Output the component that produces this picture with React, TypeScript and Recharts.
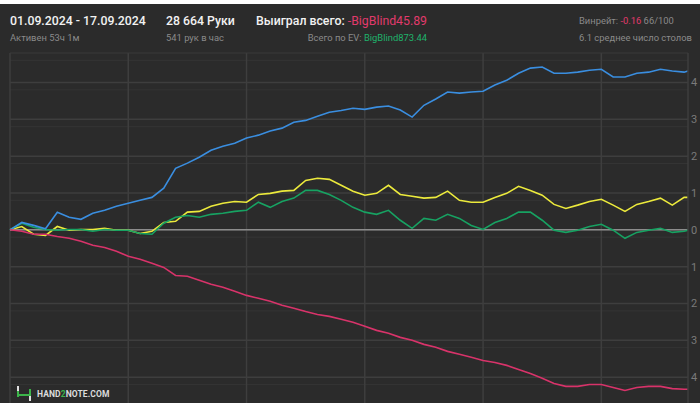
import { CartesianGrid, Line, LineChart, ReferenceLine, XAxis, YAxis } from "recharts";

// раздачи (ось X) и выигрыш в BB по линиям
const HANDS = [
  0, 500, 1000, 1500, 2000, 2500, 3000, 3500, 4000, 4500,
  5000, 5500, 6000, 6500, 7000, 7500, 8000, 8500, 9000, 9500,
  10000, 10500, 11000, 11500, 12000, 12500, 13000, 13500, 14000, 14500,
  15000, 15500, 16000, 16500, 17000, 17500, 18000, 18500, 19000, 19500,
  20000, 20500, 21000, 21500, 22000, 22500, 23000, 23500, 24000, 24500,
  25000, 25500, 26000, 26500, 27000, 27500, 28000, 28500, 28664,
];

// синяя — выигрыш на шоудауне
const SHOWDOWN = [
  0, 200, 120, 30, 475, 340, 285, 450, 530, 640,
  720, 800, 880, 1130, 1670, 1810, 1970, 2160, 2270, 2350,
  2490, 2570, 2680, 2760, 2920, 2970, 3080, 3190, 3240, 3300,
  3270, 3330, 3360, 3250, 3060, 3380, 3550, 3740, 3710, 3740,
  3760, 3930, 4060, 4250, 4390, 4420, 4250, 4250, 4280, 4330,
  4360, 4150, 4150, 4250, 4280, 4360, 4310, 4280, 4310,
];

// жёлтая — выигрыш по EV
const EV = [
  0, 90, -120, -150, 90, -10, 10, 10, 40, -10,
  -10, -100, -40, 200, 230, 480, 500, 640, 720, 770,
  750, 960, 990, 1050, 1070, 1340, 1400, 1370, 1210, 1050,
  940, 990, 1210, 960, 910, 860, 880, 1050, 800, 750,
  750, 880, 990, 1180, 1070, 940, 690, 580, 670, 770,
  830, 670, 500, 690, 770, 860, 670, 880, 880,
];

// зелёная — выиграл всего
const NET = [
  0, 180, 70, 10, -10, 10, 10, -40, 10, -10,
  -10, -100, -120, 180, 340, 390, 340, 420, 450, 500,
  530, 750, 610, 770, 860, 1070, 1070, 960, 800, 610,
  480, 420, 530, 260, 40, 310, 260, 420, 310, 120,
  10, 200, 310, 480, 480, 260, -10, -70, -10, 90,
  150, -10, -230, -70, -10, 40, -70, -40, -10,
];

// красная — без шоудауна
const NON_SHOWDOWN = [
  0, -40, -120, -120, -180, -230, -310, -420, -480, -580,
  -720, -800, -910, -1020, -1240, -1260, -1370, -1480, -1560, -1670,
  -1780, -1860, -1940, -2050, -2130, -2220, -2300, -2350, -2430, -2510,
  -2620, -2730, -2810, -2920, -3000, -3110, -3190, -3300, -3380, -3460,
  -3550, -3600, -3680, -3790, -3900, -4030, -4170, -4250, -4250, -4200,
  -4200, -4280, -4360, -4280, -4250, -4250, -4310, -4330, -4330,
];

const Y_TICKS = [-4000, -3000, -2000, -1000, 0, 1000, 2000, 3000, 4000];
const MINOR_TICKS = [
  -4800, -4600, -4400, -4200, -3800, -3600, -3400, -3200, -2800, -2600, -2400, -2200,
  -1800, -1600, -1400, -1200, -800, -600, -400, -200, 200, 400, 600, 800,
  1200, 1400, 1600, 1800, 2200, 2400, 2600, 2800, 3200, 3400, 3600, 3800, 4200, 4400, 4600,
];
const X_GRID = [0, 5000, 10000, 15000, 20000, 25000];

const rows = HANDS.map((h, i) => ({
  hands: h,
  showdown: SHOWDOWN[i],
  ev: EV[i],
  net: NET[i],
  nonShowdown: NON_SHOWDOWN[i],
}));

const BG = "#2b2b2b";
const DIM = "#8a8a8a";
const PINK = "#e23a6c";
const GREEN = "#1fb36b";
const BIG = 12.3;
const SMALL = 9.4;

const fmt = (v: number) =>
  Math.abs(v)
    .toString()
    .replace(/\B(?=(\d{3})+(?!\d))/g, " ");

export default function App() {
  return (
    <div
      style={{
        position: "fixed",
        left: 0,
        top: 0,
        width: 700,
        height: 403,
        overflow: "hidden",
        background: "#ffffff",
        fontFamily: "Roboto, 'Noto Sans', sans-serif",
      }}
    >
      <div style={{ position: "absolute", left: 0, top: 4, width: 700, height: 399, background: BG }} />

      <div style={{ position: "absolute", left: 0, top: 0 }}>
        <LineChart
          width={740}
          height={420}
          data={rows}
          margin={{ top: 53, right: 0, bottom: 6, left: 10 }}
        >
          <CartesianGrid
            horizontalValues={MINOR_TICKS}
            vertical={false}
            stroke="#343434"
            strokeWidth={1}
          />
          <CartesianGrid
            horizontalValues={Y_TICKS}
            verticalValues={X_GRID}
            stroke="#3e3e3e"
            strokeWidth={1.5}
          />
          <ReferenceLine y={4800} stroke="#3a3a3a" strokeWidth={1} />
          <XAxis dataKey="hands" type="number" domain={[0, 28664]} hide />
          <YAxis
            orientation="right"
            width={52}
            domain={[-5000, 4800]}
            ticks={Y_TICKS}
            allowDataOverflow
            tickFormatter={fmt}
            tickLine={false}
            tickSize={0}
            tickMargin={3}
            axisLine={{ stroke: "#3e3e3e", strokeWidth: 1.5 }}
            tick={{ fill: "#7a7a7a", fontSize: 11, textAnchor: "start" }}
          />
          <ReferenceLine y={0} stroke="#8c8c8c" strokeWidth={1.5} />
          <Line dataKey="ev" stroke="#ecea3c" strokeWidth={1.6} dot={false} isAnimationActive={false} />
          <Line dataKey="net" stroke="#17a262" strokeWidth={1.6} dot={false} isAnimationActive={false} />
          <Line dataKey="showdown" stroke="#3a8ee0" strokeWidth={1.6} dot={false} isAnimationActive={false} />
          <Line dataKey="nonShowdown" stroke="#d8336a" strokeWidth={1.6} dot={false} isAnimationActive={false} />
        </LineChart>
      </div>

      {/* шапка */}
      <div style={{ position: "absolute", left: 10, top: 14, color: "#f2f2f2", fontSize: BIG, fontWeight: 500 }}>
        01.09.2024 - 17.09.2024
      </div>
      <div style={{ position: "absolute", left: 10, top: 32, color: DIM, fontSize: SMALL }}>Активен 53ч 1м</div>

      <div style={{ position: "absolute", left: 166, top: 14, color: "#f2f2f2", fontSize: BIG, fontWeight: 500 }}>
        28 664 Руки
      </div>
      <div style={{ position: "absolute", left: 166, top: 32, color: DIM, fontSize: SMALL }}>541 рук в час</div>

      <div
        style={{
          position: "absolute",
          right: 273,
          top: 14,
          fontSize: BIG,
          whiteSpace: "nowrap",
          textAlign: "right",
        }}
      >
        <span style={{ color: "#f2f2f2", fontWeight: 500 }}>Выиграл всего: </span>
        <span style={{ color: PINK }}>-BigBlind45.89</span>
      </div>
      <div
        style={{
          position: "absolute",
          right: 273,
          top: 32,
          fontSize: SMALL,
          whiteSpace: "nowrap",
          textAlign: "right",
        }}
      >
        <span style={{ color: DIM }}>Всего по EV: </span>
        <span style={{ color: GREEN }}>BigBlind873.44</span>
      </div>

      <div style={{ position: "absolute", left: 579, top: 15, fontSize: SMALL, whiteSpace: "nowrap" }}>
        <span style={{ color: DIM }}>Винрейт: </span>
        <span style={{ color: PINK }}>-0.16</span>
        <span style={{ color: DIM }}> 66/100</span>
      </div>
      <div style={{ position: "absolute", left: 579, top: 32, fontSize: SMALL, color: DIM, whiteSpace: "nowrap" }}>
        6.1 среднее число столов
      </div>

      {/* логотип */}
      <div style={{ position: "absolute", left: 17, top: 386, display: "flex", alignItems: "center" }}>
        <svg width={14} height={15}>
          <rect x={0} y={0} width={2} height={5} fill="#e0e0e0" />
          <rect x={0} y={5} width={2} height={6} fill="#3cb44a" />
          <rect x={0} y={8} width={14} height={2} fill="#3cb44a" />
          <rect x={12} y={3} width={2} height={6} fill="#3cb44a" />
          <rect x={12} y={10} width={2} height={5} fill="#e0e0e0" />
        </svg>
        <span style={{ marginLeft: 6, fontSize: 8.5, fontWeight: 700, color: "#dcdcdc", letterSpacing: 0.1 }}>
          HAND<span style={{ color: "#3cb44a" }}>2</span>NOTE.COM
        </span>
      </div>
    </div>
  );
}
